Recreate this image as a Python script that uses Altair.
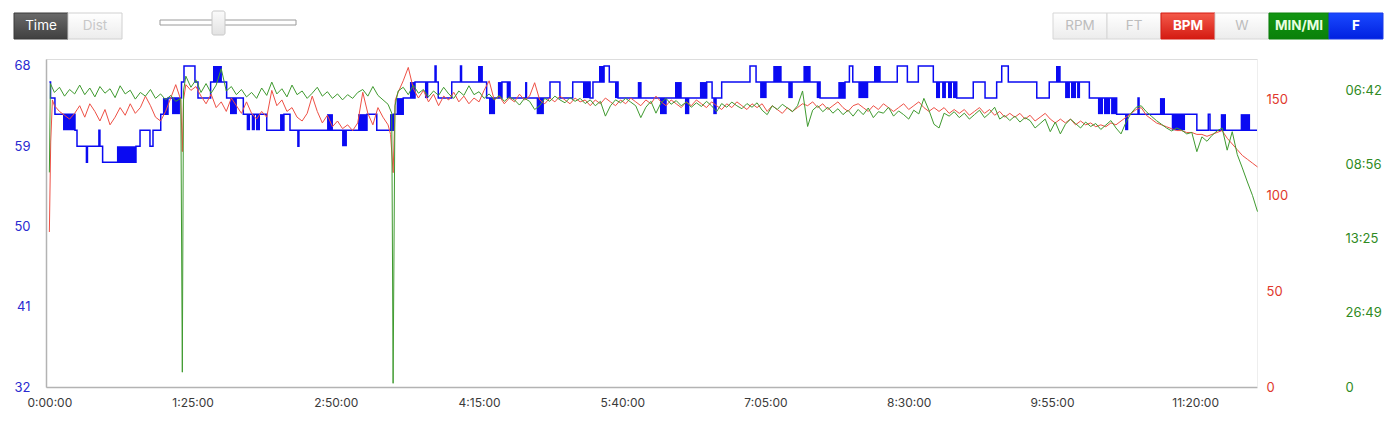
import altair as alt
import pandas as pd

# ---------------- data ----------------
STEP_MIN = 3  # heart-rate / speed samples every 3 minutes

hr_bpm = [
    81, 147, 144, 142, 140, 143, 147, 141, 148, 144,
    139, 145, 137, 141, 146, 142, 148, 143, 146, 152,
    147, 141, 139, 144, 151, 158, 150, 158, 155, 157,
    152, 148, 153, 146, 149, 144, 151, 147, 143, 149,
    143, 140, 144, 141, 155, 147, 150, 144, 146, 141,
    139, 143, 152, 144, 138, 142, 136, 139, 135, 137,
    134, 138, 154, 143, 137, 146, 141, 137, 112, 154,
    160, 167, 156, 151, 155, 149, 153, 147, 152, 150,
    154, 149, 152, 148, 151, 149, 155, 160, 150, 152,
    148, 151, 149, 153, 150, 152, 159, 150, 148, 151,
    149, 152, 150, 148, 151, 149, 150, 147, 150, 148,
    151, 149, 147, 150, 148, 151, 149, 147, 150, 148,
    152, 149, 147, 150, 148, 146, 149, 147, 150, 148,
    146, 149, 147, 145, 148, 146, 149, 147, 145, 148,
    146, 148, 144, 147, 145, 143, 146, 144, 146, 148,
    147, 149, 146, 148, 145, 147, 149, 146, 144, 147,
    148, 146, 144, 147, 145, 148, 146, 144, 146, 148,
    145, 147, 149, 146, 144, 146, 144, 146, 143, 145,
    143, 145, 142, 144, 146, 143, 145, 142, 144, 141,
    143, 141, 143, 140, 142, 139, 141, 143, 140, 138,
    140, 138, 140, 137, 139, 137, 138, 136, 137, 136,
    138, 137, 139, 141, 143, 145, 146, 142, 140, 138,
    137, 136, 135, 134, 134, 133, 133, 132, 132, 131,
    132, 133, 134, 130, 127, 124, 121, 119, 117, 115,
]
hr_extra_min = [0.8, 1.8, 78.9, 79.6, 202.5, 205.3]
hr_extra_bpm = [128, 150, 123, 150, 132, 150]

speed_ms = [
    2.9, 3.98, 4.05, 3.93, 4.02, 3.96, 4.08, 3.95, 4.04, 3.92,
    4.06, 3.97, 4.03, 3.91, 4.07, 3.96, 4.01, 3.89, 3.98, 3.93,
    4.02, 3.9, 3.96, 3.88, 3.94, 3.86, 3.9, 4.2, 4.05, 4.15,
    3.98, 4.1, 3.97, 4.08, 4.3, 4.0, 4.06, 3.95, 4.02, 3.92,
    3.98, 3.9, 4.04, 3.94, 4.12, 3.96, 4.03, 3.92, 4.08, 3.95,
    4.0, 3.9, 3.97, 4.05, 3.93, 3.99, 3.9, 3.96, 3.88, 3.95,
    3.9, 3.98, 4.02, 3.93, 4.06, 3.94, 3.88, 3.82, 0.05, 4.0,
    4.05, 3.95, 4.08, 3.97, 4.02, 3.92, 4.0, 3.94, 4.05, 3.96,
    3.9, 4.0, 3.94, 4.07, 3.95, 3.99, 3.9, 3.96, 3.88, 3.94,
    3.86, 3.92, 3.88, 3.81, 3.9, 3.86, 3.75, 3.8, 3.9, 3.86,
    3.93, 3.88, 3.84, 3.91, 3.86, 3.9, 3.83, 3.88, 3.8, 3.86,
    3.66, 3.8, 3.88, 3.84, 3.9, 3.85, 3.8, 3.64, 3.78, 3.86,
    3.7, 3.84, 3.9, 3.82, 3.87, 3.8, 3.85, 3.78, 3.84, 3.79,
    3.86, 3.8, 3.72, 3.83, 3.78, 3.85, 3.8, 3.76, 3.83, 3.78,
    3.84, 3.74, 3.68, 3.8, 3.75, 3.82, 3.77, 3.72, 3.8, 4.0,
    3.52, 3.74, 3.8, 3.72, 3.78, 3.7, 3.76, 3.68, 3.74, 3.66,
    3.75, 3.68, 3.77, 3.64, 3.72, 3.7, 3.78, 3.66, 3.73, 3.68,
    3.62, 3.74, 3.69, 3.9, 3.74, 3.55, 3.5, 3.7, 3.66, 3.72,
    3.64, 3.7, 3.62, 3.68, 3.74, 3.64, 3.7, 3.78, 3.62, 3.67,
    3.6, 3.66, 3.58, 3.64, 3.6, 3.5, 3.56, 3.62, 3.45, 3.58,
    3.42, 3.55, 3.62, 3.56, 3.5, 3.58, 3.52, 3.56, 3.48, 3.54,
    3.6, 3.5, 3.42, 3.58, 3.7, 3.78, 3.8, 3.72, 3.66, 3.6,
    3.55, 3.5, 3.46, 3.5, 3.47, 3.42, 3.44, 3.18, 3.38, 3.32,
    3.4, 3.46, 3.5, 3.2, 3.45, 3.14, 2.96, 2.77, 2.59, 2.37,
]
speed_extra_min = [0.6, 78.9, 79.6, 203.2, 205.1]
speed_extra_ms = [4.1, 0.2, 4.0, 3.7, 3.8]

# temperature (F) step changes
temp_min = [0, 0.7, 3.3, 15.2, 16.4, 22.0, 22.6, 29.4, 30.0, 31.6,
            51.4, 53.8, 59.7, 61.5, 66.1, 70.4, 78.4, 79.9, 86.4, 88.2,
            95.7, 105.2, 115.1, 129.0, 139.2, 142.8, 147.5, 148.1, 188.5, 194.3,
            204.1, 210.0, 217.0, 228.9, 229.5, 230.8, 238.8, 244.0, 244.6, 259.5,
            268.6, 273.4, 297.1, 303.0, 310.6, 320.9, 322.6, 329.2, 332.3, 337.5,
            390.1, 393.3, 399.0, 415.8, 419.4, 457.4, 472.2, 474.8, 476.8, 503.2,
            509.2, 515.7, 524.6, 538.5, 548.3, 555.3, 562.2, 565.2, 569.1, 586.0,
            593.4, 617.2, 633.4, 646.1, 646.7, 681.0, 687.8, 688.8, 716.7]
temp_f = [66.2, 64.4, 62.6, 60.8, 59.0, 57.2, 59.0, 60.8, 59.0, 57.2,
          59.0, 60.8, 59.0, 60.8, 62.6, 64.4, 66.2, 68.0, 66.2, 64.4,
          66.2, 64.4, 62.6, 60.8, 62.6, 60.8, 59.0, 60.8, 62.6, 60.8,
          62.6, 64.4, 66.2, 68.0, 66.2, 64.4, 66.2, 68.0, 66.2, 64.4,
          66.2, 64.4, 66.2, 64.4, 66.2, 64.4, 66.2, 68.0, 66.2, 64.4,
          66.2, 64.4, 66.2, 68.0, 66.2, 64.4, 66.2, 68.0, 66.2, 68.0,
          66.2, 68.0, 66.2, 64.4, 66.2, 64.4, 66.2, 68.0, 66.2, 64.4,
          66.2, 64.4, 62.6, 64.4, 62.6, 60.8, 62.6, 60.8, 60.8]

# stretches where the temperature flickers between two readings
flicker_start = [8.1, 40.1, 67.4, 72.8, 97.1, 107.2, 117.1, 120.1, 122.6, 136.9,
                 164.8, 173.7, 183.2, 202.2, 206.1, 214.0, 222.9, 254.4, 260.9, 266.2,
                 271.4, 282.3, 289.2, 316.7, 326.2, 335.7, 349.2, 362.4, 371.3, 377.2,
                 386.1, 394.0, 421.8, 429.6, 438.5, 447.5, 455.4, 468.2, 480.1, 489.4,
                 526.2, 529.8, 533.3, 536.3, 597.4, 602.8, 606.3, 609.9, 622.3, 625.9,
                 630.1, 638.4, 659.1, 666.1, 695.2, 707.0]
flicker_end = [15.2, 51.4, 70.4, 77.5, 102.4, 111.3, 119.1, 122.0, 125.0, 139.2,
               168.3, 176.6, 188.5, 204.1, 210.0, 217.0, 224.9, 257.3, 264.5, 268.6,
               273.4, 283.6, 293.5, 320.9, 329.2, 337.5, 351.5, 366.4, 375.3, 379.8,
               390.1, 396.1, 425.7, 434.6, 441.2, 451.8, 457.4, 472.2, 486.0, 493.4,
               528.6, 532.1, 535.7, 538.5, 600.2, 605.7, 609.3, 611.7, 625.3, 629.5,
               633.4, 640.3, 662.1, 674.0, 698.3, 712.6]
flicker_low = [60.8, 57.2, 62.6, 62.6, 66.2, 62.6, 60.8, 60.8, 60.8, 60.8,
               60.8, 59.0, 60.8, 60.8, 62.6, 64.4, 64.4, 66.2, 62.6, 64.4,
               64.4, 64.4, 62.6, 64.4, 66.2, 64.4, 64.4, 62.6, 64.4, 62.6,
               64.4, 62.6, 64.4, 66.2, 64.4, 66.2, 64.4, 64.4, 64.4, 66.2,
               64.4, 64.4, 64.4, 64.4, 66.2, 64.4, 64.4, 64.4, 62.6, 62.6,
               62.6, 60.8, 62.6, 60.8, 60.8, 60.8]
flicker_high = [round(v + 1.8, 1) for v in flicker_low]

x_ticks = [0, 85, 170, 255, 340, 425, 510, 595, 680]
temp_ticks = [32, 41, 50, 59, 68]
hr_ticks = [0, 50, 100, 150]
speed_ticks = [0, 1, 2, 3, 4]

# ---------------- tables ----------------
hr_df = pd.DataFrame({
    "t": [i * STEP_MIN for i in range(len(hr_bpm))] + hr_extra_min,
    "bpm": hr_bpm + hr_extra_bpm,
}).sort_values("t")
sp_df = pd.DataFrame({
    "t": [i * STEP_MIN for i in range(len(speed_ms))] + speed_extra_min,
    "speed": speed_ms + speed_extra_ms,
}).sort_values("t")
temp_df = pd.DataFrame({"t": temp_min, "temp": temp_f})
flick_df = pd.DataFrame({"t0": flicker_start, "t1": flicker_end,
                         "lo": flicker_low, "hi": flicker_high})

FONT = "Inter"
BLUE = "#0a0af2"
RED = "#ee5045"
GREEN = "#3f9a2f"

x_scale = alt.Scale(domain=[-2.0, 716.7], nice=False, zero=False)
x_axis = alt.Axis(values=x_ticks, title=None, grid=False, ticks=False,
                  domainColor="#b3b3b3", domainWidth=1.5,
                  labelColor="#3a3a3a", labelFont=FONT, labelFontSize=12,
                  labelPadding=10, labelFlush=False, labelOverlap=False,
                  labelExpr="floor(datum.value/60) + ':' + (datum.value % 60 < 10 ? '0' : '') + (datum.value % 60) + ':00'")
temp_scale = alt.Scale(domain=[32, 68.785], nice=False, zero=False)
temp_axis = alt.Axis(orient="left", values=temp_ticks, title=None, grid=False,
                     ticks=False, domainColor="#b3b3b3", domainWidth=1.5,
                     labelColor="#2a2ad0", labelFont=FONT, labelFontSize=13,
                     labelPadding=16, labelFlush=False, labelOverlap=False)
hr_scale = alt.Scale(domain=[0, 171.4], nice=False)
hr_axis = alt.Axis(orient="right", values=hr_ticks, title=None, grid=False,
                   ticks=False, domainColor="#eeeeee", domainWidth=1,
                   labelColor="#e0382c", labelFont=FONT, labelFontSize=13,
                   labelPadding=9, labelFlush=False, labelOverlap=False)
sp_scale = alt.Scale(domain=[0, 4.432], nice=False)
sp_axis = alt.Axis(orient="right", offset=80, values=speed_ticks, title=None,
                   grid=False, ticks=False, domain=False,
                   labelColor="#2f8a22", labelFont=FONT, labelFontSize=13,
                   labelPadding=8, labelFlush=False, labelOverlap=False,
                   labelExpr="datum.value == 0 ? '0' : (floor(1609.344/datum.value/60) < 10 ? '0' : '') + floor(1609.344/datum.value/60) + ':' + (round(1609.344/datum.value % 60) < 10 ? '0' : '') + round(1609.344/datum.value % 60)")

flick = alt.Chart(flick_df).mark_rect(color=BLUE).encode(
    x=alt.X("t0:Q", scale=x_scale, axis=x_axis),
    x2="t1:Q",
    y=alt.Y("lo:Q", scale=temp_scale, axis=None),
    y2="hi:Q",
)
temp_line = alt.Chart(temp_df).mark_line(interpolate="step-after", color=BLUE,
                                         strokeWidth=1.5).encode(
    x=alt.X("t:Q", scale=x_scale, axis=x_axis),
    y=alt.Y("temp:Q", scale=temp_scale, axis=temp_axis),
)
hr_line = alt.Chart(hr_df).mark_line(color=RED, strokeWidth=1).encode(
    x=alt.X("t:Q", scale=x_scale, axis=x_axis),
    y=alt.Y("bpm:Q", scale=hr_scale, axis=hr_axis),
)
sp_line = alt.Chart(sp_df).mark_line(color=GREEN, strokeWidth=1).encode(
    x=alt.X("t:Q", scale=x_scale, axis=x_axis),
    y=alt.Y("speed:Q", scale=sp_scale, axis=sp_axis),
)

# ---------------- header controls (decoration) ----------------
one = pd.DataFrame({"k": [0]})


def grad(top, bottom):
    return alt.LinearGradient(gradient="linear", x1=0, x2=0, y1=0, y2=1,
                              stops=[alt.GradientStop(color=top, offset=0),
                                     alt.GradientStop(color=bottom, offset=1)])


LIGHT = grad("#ffffff", "#ececec")
buttons = [
    ("Time", -32, 22, grad("#6a6a6a", "#404040"), "#ffffff", "normal", "#3a3a3a"),
    ("Dist", 22, 76, LIGHT, "#c8c8c8", "normal", "#d0d0d0"),
    ("RPM", 1007, 1061, LIGHT, "#bdbdbd", "normal", "#d6d6d6"),
    ("FT", 1061, 1115, LIGHT, "#bdbdbd", "normal", "#d6d6d6"),
    ("BPM", 1115, 1169, grad("#f45a4a", "#d41a12"), "#ffffff", "bold", "#d41a12"),
    ("W", 1169, 1223, LIGHT, "#bdbdbd", "normal", "#d6d6d6"),
    ("MIN/MI", 1223, 1283, grad("#129612", "#0a800a"), "#e8ffe0", "bold", "#0a800a"),
    ("F", 1283, 1337, grad("#1a4aff", "#0020e0"), "#ffffff", "bold", "#1a3ae8"),
]
header_layers = []
for label, x0, x1, fill, tcol, weight, stroke in buttons:
    header_layers.append(
        alt.Chart(one).mark_rect(fill=fill, stroke=stroke, strokeWidth=1).encode(
            x=alt.value(x0), x2=alt.value(x1), y=alt.value(-46), y2=alt.value(-20)))
    header_layers.append(
        alt.Chart(one).mark_text(text=label, font=FONT, fontSize=13.5,
                                 fontWeight=weight, color=tcol, align="center",
                                 baseline="middle").encode(
            x=alt.value((x0 + x1) / 2), y=alt.value(-33)))
# slider
header_layers.append(
    alt.Chart(one).mark_rect(fill="#ffffff", stroke="#9a9a9a", strokeWidth=1).encode(
        x=alt.value(114), x2=alt.value(250), y=alt.value(-39), y2=alt.value(-34)))
header_layers.append(
    alt.Chart(one).mark_rect(fill=grad("#fbfbfb", "#e2e2e2"), stroke="#c8c8c8",
                             strokeWidth=1, cornerRadius=2).encode(
        x=alt.value(166), x2=alt.value(179), y=alt.value(-48), y2=alt.value(-24)))

chart = alt.layer(flick, temp_line, hr_line, sp_line, *header_layers).resolve_scale(
    y="independent"
).properties(
    width=1211, height=328,
    autosize=alt.AutoSizeParams(type="none"),
    padding={"left": 38, "top": 51, "right": 135, "bottom": 32},
).configure_view(strokeWidth=0).configure(background="#ffffff")

chart.save("out.html", embed_options={"renderer": "svg", "actions": False})
